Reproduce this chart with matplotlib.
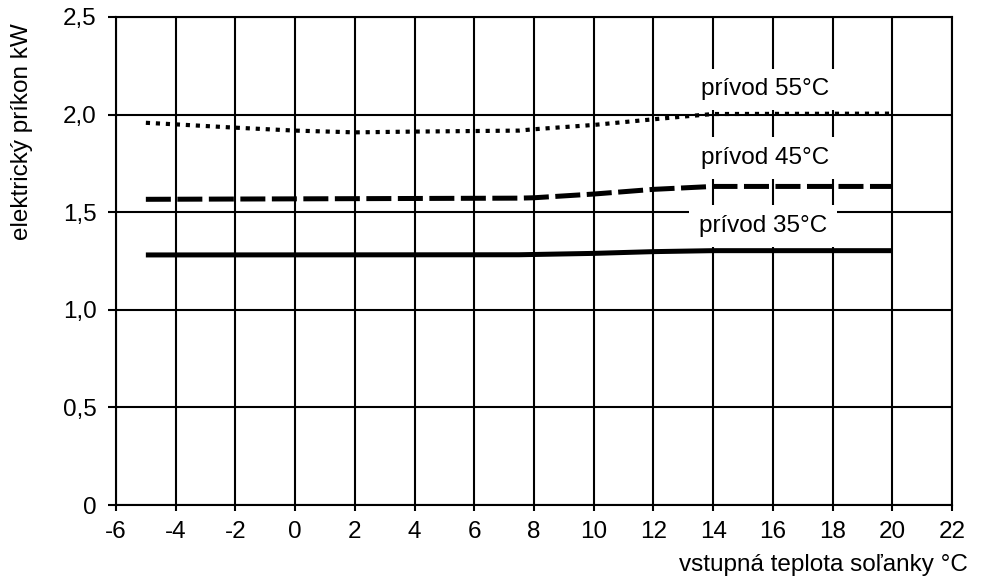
import matplotlib
matplotlib.use("Agg")
import matplotlib.pyplot as plt

plt.rcParams['font.family'] = ['Liberation Sans', 'DejaVu Sans']

# Data
x35 = [-5, 7.5, 10, 12, 14, 20]
y35 = [1.281, 1.282, 1.289, 1.298, 1.303, 1.303]

x45 = [-5, 7.5, 8, 10, 12, 14, 20]
y45 = [1.566, 1.572, 1.574, 1.593, 1.617, 1.632, 1.632]

x55 = [-5, -4, -2, 0, 2, 4, 7.5, 8, 10, 12, 13, 14, 20]
y55 = [1.958, 1.950, 1.933, 1.918, 1.909, 1.913, 1.918, 1.925, 1.947, 1.976, 1.99, 2.003, 2.005]

labels = ["prívod 35°C", "prívod 45°C", "prívod 55°C"]
label_pos = [(15.67, 1.43), (15.73, 1.778), (15.73, 2.13)]

xticks = list(range(-6, 23, 2))
xticklabels = [str(v) for v in xticks]
yticks = [0, 0.5, 1.0, 1.5, 2.0, 2.5]
yticklabels = ["0", "0,5", "1,0", "1,5", "2,0", "2,5"]

xlabel = "vstupná teplota soľanky °C"
ylabel = "elektrický príkon kW"

FS = 17.5

fig = plt.figure(figsize=(9.87, 5.82), dpi=100)
ax = fig.add_axes([116/987, (582-505)/582, (952-116)/987, (505-17)/582])

ax.set_xlim(-6, 22)
ax.set_ylim(0, 2.5)
ax.set_xticks(xticks)
ax.set_xticklabels(xticklabels)
ax.set_yticks(yticks)
ax.set_yticklabels(yticklabels)
ax.tick_params(axis='x', direction='out', length=4.5, width=1.5, pad=7, labelsize=FS)
ax.tick_params(axis='y', direction='out', length=6, width=1.5, pad=8, labelsize=FS)
ax.grid(True, color='black', linewidth=1.5, zorder=1)
ax.set_axisbelow(True)
for s in ax.spines.values():
    s.set_linewidth(1.5)
    s.set_color('black')

ax.plot(x35, y35, color='black', linewidth=3.6, solid_capstyle='butt', zorder=4)
ax.plot(x45, y45, color='black', linewidth=3.6, dashes=(5.0, 1.3), dash_capstyle='butt', zorder=4)
ax.plot(x55, y55, color='black', linewidth=3.0, dashes=(1.0, 1.4), dash_capstyle='butt', zorder=4)

for lab, (lx, ly) in zip(labels, label_pos):
    ax.text(lx, ly, lab, fontsize=FS, ha='center', va='center', zorder=3,
            bbox=dict(facecolor='white', edgecolor='none', pad=7))

ax.text((968-116)/836, (505-565)/488, xlabel, fontsize=FS, ha='right', va='center',
        transform=ax.transAxes)
ax.text((22-116)/836, (505-132)/488, ylabel, fontsize=FS, ha='center', va='center',
        rotation=90, rotation_mode='default', transform=ax.transAxes)

fig.savefig("out.png", dpi=100)
